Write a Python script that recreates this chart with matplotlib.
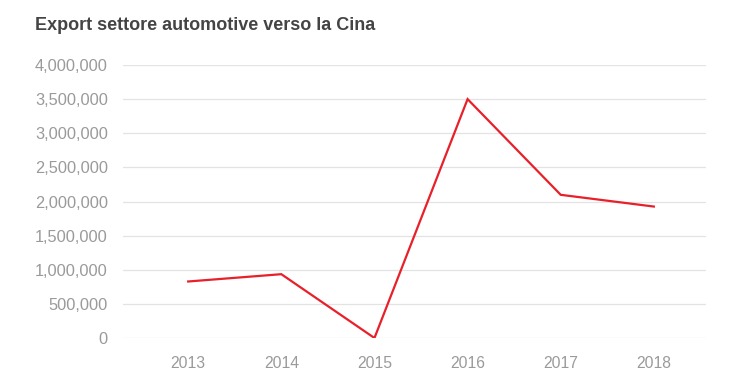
import matplotlib
matplotlib.use("Agg")
import matplotlib.pyplot as plt
from matplotlib.ticker import FuncFormatter

years = [2013, 2014, 2015, 2016, 2017, 2018]
exports = [828000, 935000, 0, 3500000, 2098000, 1926000]
yticks = [0, 500000, 1000000, 1500000, 2000000, 2500000, 3000000, 3500000, 4000000]
title = "Export settore automotive verso la Cina"

plt.rcParams['font.family'] = ['Liberation Sans', 'DejaVu Sans']

fig = plt.figure(figsize=(7.4, 3.88), dpi=100)
ax = fig.add_axes([123/740, 50/388, (706-123)/740, (338-65)/388])

ax.plot(years, exports, color='#e8202a', lw=1.6, solid_joinstyle='miter')
ax.set_xlim(2012.30, 2018.56)
ax.set_ylim(0, 4000000)
ax.set_yticks(yticks)
ax.set_xticks(years)
ax.yaxis.set_major_formatter(FuncFormatter(lambda v, p: f"{int(v):,}"))
ax.grid(axis='y', color='#e3e3e3', lw=0.9)
ax.set_axisbelow(True)
for s in ax.spines.values():
    s.set_visible(False)
ax.tick_params(axis='both', length=0, colors='#9a9a9a')
ax.tick_params(axis='y', pad=11, labelsize=11.8)
ax.tick_params(axis='x', pad=13, labelsize=11.3)

fig.text(35/740, 1 - 26/388, title, fontsize=13, fontweight='bold', color='#444444', va='center', ha='left')

fig.savefig('out.png', dpi=100, facecolor='white')
